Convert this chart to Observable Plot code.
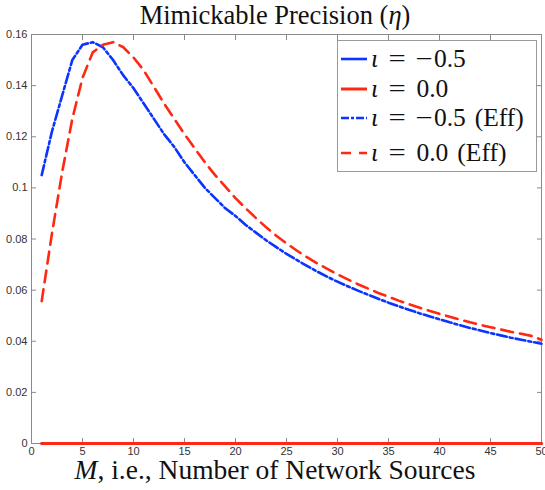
<!DOCTYPE html>
<html>
<head>
<meta charset="utf-8">
<script src="https://cdn.jsdelivr.net/npm/d3@7"></script>
<script src="https://cdn.jsdelivr.net/npm/@observablehq/plot@0.6"></script>
<style>
  body { margin: 0; background: #fff; }
  #wrap { position: relative; width: 545px; height: 490px; overflow: hidden; }
  .serif { font-family: "Liberation Serif", "Times New Roman", serif; color: #111; }
  #title { position: absolute; top: 0px; left: 0; width: 550px; text-align: center; font-size: 26.5px; line-height: 30px; }
  #xlabel { position: absolute; top: 457px; left: 0; width: 550px; text-align: center; font-size: 27.5px; line-height: 26px; }
  #legend { position: absolute; left: 337px; top: 40px; width: 198px; height: 130px; border: 1px solid #9a9a9a; background: #fff; }
  .row { position: absolute; left: 3px; height: 30px; display: flex; align-items: center; font-size: 25.5px; white-space: nowrap; }
  .row svg { margin-right: 4px; }
  .op { display: inline-block; transform: scaleX(1.2); margin: 0 12px; }
  .op2 { display: inline-block; transform: scaleX(1.2); margin: 0 2px 0 1px; }
</style>
</head>
<body>
<div id="wrap">
  <div id="chart"></div>
  <div id="title" class="serif">Mimickable Precision (<i>η</i>)</div>
  <div id="xlabel" class="serif"><i>M</i>, i.e., Number of Network Sources</div>
  <div id="legend" class="serif"></div>
</div>
<script>
// ---- data ----
const M = d3.range(1, 51);
const etaNeg05 = M.map(() => 0);          // ι = −0.5 (solid, zero)
const etaZero = M.map(() => 0);           // ι = 0.0 (solid, zero)
const etaNeg05Eff = [0.105, 0.122, 0.136, 0.150, 0.156, 0.157, 0.155, 0.150, 0.144, 0.139,
  0.133, 0.127, 0.121, 0.116, 0.110, 0.105, 0.100, 0.096, 0.092, 0.089,
  0.0855, 0.0825, 0.0795, 0.0768, 0.0742, 0.0718, 0.0695, 0.0673, 0.0652, 0.0633,
  0.0615, 0.0598, 0.0582, 0.0566, 0.0551, 0.0537, 0.0523, 0.0510, 0.0498, 0.0486,
  0.0474, 0.0463, 0.0452, 0.0442, 0.0432, 0.0423, 0.0414, 0.0406, 0.0398, 0.0390];
const etaZeroEff = [0.0557, 0.082, 0.106, 0.127, 0.143, 0.153, 0.156, 0.157, 0.155, 0.151,
  0.146, 0.1395, 0.133, 0.127, 0.121, 0.1155, 0.110, 0.105, 0.1005, 0.096,
  0.092, 0.0882, 0.0846, 0.0813, 0.0783, 0.0755, 0.0729, 0.0705, 0.0683, 0.0662,
  0.0642, 0.0623, 0.0606, 0.0589, 0.0574, 0.0559, 0.0545, 0.0532, 0.0519, 0.0507,
  0.0496, 0.0485, 0.0474, 0.0464, 0.0455, 0.0446, 0.0437, 0.0429, 0.0421, 0.0406];
const xTicks = d3.range(0, 51, 5);
const yTicks = [0, 0.02, 0.04, 0.06, 0.08, 0.1, 0.12, 0.14, 0.16];
const iotaValues = ["−0.5", "0.0", "−0.5", "0.0"];
const effFlags = [false, false, true, true];

const BLUE = "#0b35ff", RED = "#ff2812";
const styles = [
  {color: BLUE, dash: null, w: 2.6, legendDash: null},
  {color: RED, dash: null, w: 3, legendDash: null},
  {color: BLUE, dash: "10,3,3,3", w: 2.6, legendDash: "8,2,3,2"},
  {color: RED, dash: "12,7", w: 2.6, legendDash: "10,8"}
];
const seriesValues = [etaNeg05, etaZero, etaNeg05Eff, etaZeroEff];

const lineMarks = seriesValues.map((vals, s) =>
  Plot.line(M, {x: d => d, y: (d, i) => vals[i], stroke: styles[s].color,
    strokeWidth: styles[s].w, strokeDasharray: styles[s].dash, strokeLinejoin: "round"})
);

const axColor = "#8a8a8a";
const none = () => null;
const chart = Plot.plot({
  width: 545, height: 490,
  marginTop: 34, marginLeft: 31, marginRight: 4, marginBottom: 47,
  style: {fontFamily: "Liberation Sans, Arial, sans-serif", background: "white"},
  x: {domain: [0, 50]},
  y: {domain: [0, 0.16]},
  marks: [
    Plot.frame({stroke: axColor}),
    Plot.axisX(xTicks, {anchor: "bottom", tickSize: 0, tickPadding: 4, fontSize: 11, fill: "#333", label: null}),
    Plot.axisX(xTicks, {anchor: "bottom", tickSize: 5, dy: -5, tickFormat: none, stroke: axColor, label: null}),
    Plot.axisX(xTicks, {anchor: "top", tickSize: 5, dy: 5, tickFormat: none, stroke: axColor, label: null}),
    Plot.axisY(yTicks, {anchor: "left", tickSize: 0, tickPadding: 4, fontSize: 11, fill: "#333", label: null, tickFormat: d => d === 0 ? "0" : String(+d.toFixed(2))}),
    Plot.axisY(yTicks, {anchor: "left", tickSize: 5, dx: 5, tickFormat: none, stroke: axColor, label: null}),
    Plot.axisY(yTicks, {anchor: "right", tickSize: 5, dx: -5, tickFormat: none, stroke: axColor, label: null}),
    ...lineMarks
  ]
});
document.getElementById("chart").appendChild(chart);

// ---- legend ----
const legend = document.getElementById("legend");
const rowCenters = [17.5, 47.5, 77, 112];
iotaValues.forEach((val, s) => {
  const r = document.createElement("div");
  r.className = "row";
  r.style.top = (rowCenters[s] - 15) + "px";
  const st = styles[s];
  const sw = `<svg width="26" height="10"><line x1="0" y1="5" x2="26" y2="5" stroke="${st.color}" stroke-width="${st.w}" ${st.legendDash ? `stroke-dasharray="${st.legendDash}"` : ""}/></svg>`;
  const num = val.startsWith("−") ? `<span class="op2">−</span>${val.slice(1)}` : val;
  r.innerHTML = sw + `<i>ι</i><span class="op">=</span>${num}` + (effFlags[s] ? `<span style="margin-left:9px">(Eff)</span>` : "");
  legend.appendChild(r);
});
</script>
</body>
</html>
